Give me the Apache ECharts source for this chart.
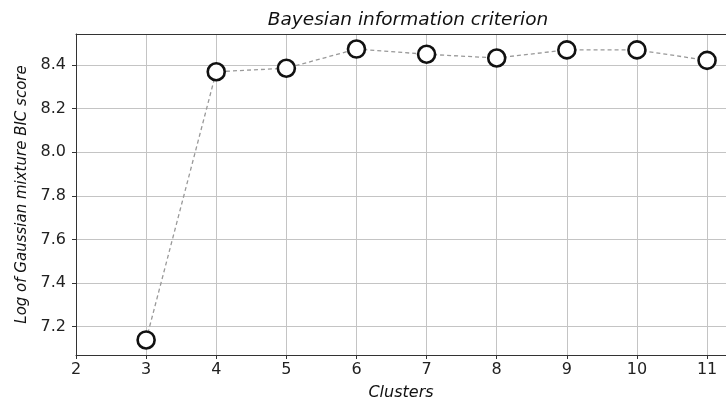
<!DOCTYPE html>
<html><head><meta charset="utf-8">
<script src="https://cdn.jsdelivr.net/npm/echarts@6/dist/echarts.min.js"></script>
<style>html,body{margin:0;padding:0;background:#fff}#c{width:726px;height:401px}</style>
</head><body><div id="c"></div>
<script>
const clusters = [3, 4, 5, 6, 7, 8, 9, 10, 11];
const bicLog = [7.139, 8.369, 8.385, 8.473, 8.449, 8.432, 8.469, 8.469, 8.421];
const yTicks = [7.2, 7.4, 7.6, 7.8, 8.0, 8.2, 8.4];
const xTicks = [2, 3, 4, 5, 6, 7, 8, 9, 10, 11];

const chart = echarts.init(document.getElementById('c'), null, {renderer: 'canvas'});
const font = 'DejaVu Sans';
const xMin = 2, xMax = 11.27;
chart.setOption({
  animation: false,
  backgroundColor: '#fff',
  title: {
    text: 'Bayesian information criterion',
    left: 403, top: 6, textAlign: 'center',
    textStyle: {fontFamily: font, fontStyle: 'italic', fontWeight: 'normal', fontSize: 18.5, color: '#111'}
  },
  grid: {left: 76, top: 34, right: 0, bottom: 46, show: false, outerBoundsMode: 'none', containLabel: false},
  xAxis: [{
    type: 'value', min: xMin, max: xMax, interval: 1,
    name: 'Clusters', nameLocation: 'middle', nameGap: 30,
    nameTextStyle: {fontFamily: font, fontStyle: 'italic', fontSize: 16, color: '#111'},
    axisLine: {show: true, lineStyle: {color: '#333', width: 1}},
    axisTick: {show: true, length: 4, lineStyle: {color: '#333'}, customValues: xTicks},
    axisLabel: {fontFamily: font, fontSize: 16, color: '#222', margin: 7, customValues: xTicks},
    splitLine: {show: true, lineStyle: {color: '#c4c4c4', width: 1}}
  }, {
    type: 'value', position: 'top', min: xMin, max: xMax,
    axisLine: {show: true, onZero: false, lineStyle: {color: '#333', width: 1}},
    axisTick: {show: false}, axisLabel: {show: false}, splitLine: {show: false}
  }],
  yAxis: {
    type: 'value', min: 7.07, max: 8.542, splitNumber: 7,
    name: 'Log of Gaussian mixture BIC score', nameLocation: 'middle', nameGap: 46,
    nameTextStyle: {fontFamily: font, fontStyle: 'italic', fontSize: 15, color: '#111'},
    axisLine: {show: true, lineStyle: {color: '#333', width: 1}},
    axisTick: {show: true, length: 4, lineStyle: {color: '#333'}, customValues: yTicks},
    axisLabel: {fontFamily: font, fontSize: 16, color: '#222', margin: 10, customValues: yTicks,
      formatter: v => v.toFixed(1)},
    splitLine: {show: true, lineStyle: {color: '#c4c4c4', width: 1}}
  },
  series: [{
    type: 'line',
    xAxisIndex: 0,
    data: clusters.map((c, i) => [c, bicLog[i]]),
    symbol: 'circle', symbolSize: 17,
    lineStyle: {color: '#999', width: 1.3, type: [4, 3]},
    itemStyle: {color: '#fff', borderColor: '#111', borderWidth: 2.6},
    z: 3
  }]
});
</script></body></html>
